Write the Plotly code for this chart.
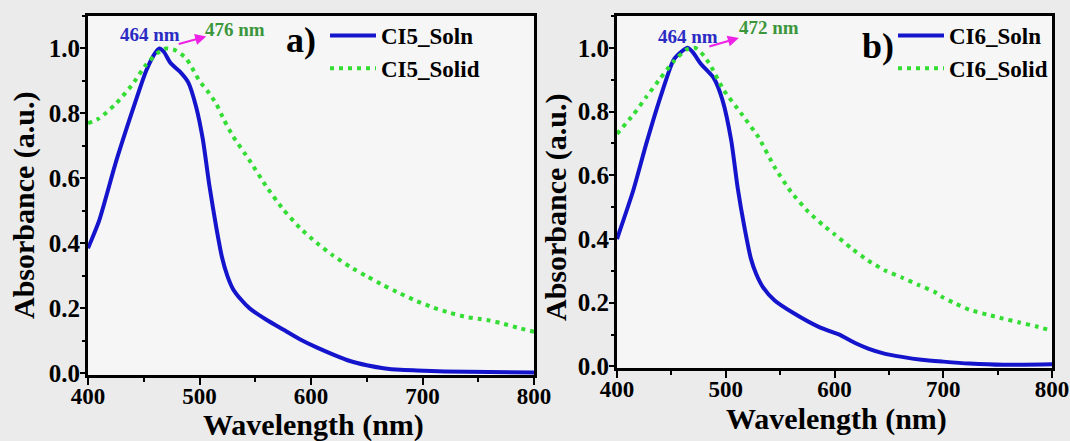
import plotly.graph_objects as go

# ---- absorbance spectra (wavelength in nm, normalised absorbance) ----
ci5_soln_nm = [400, 410, 425, 440, 452, 460, 464, 468, 474, 482, 490, 497, 503, 509,
               515, 520, 525, 530, 537, 545, 560, 575, 590, 605, 620, 635, 650, 665,
               680, 695, 720, 760, 800]
ci5_soln_abs = [0.385, 0.47, 0.65, 0.81, 0.93, 0.985, 1.0, 0.99, 0.955, 0.93, 0.895,
                0.82, 0.72, 0.575, 0.45, 0.36, 0.3, 0.26, 0.228, 0.2, 0.165, 0.135,
                0.105, 0.08, 0.058, 0.038, 0.025, 0.016, 0.011, 0.009, 0.006, 0.004,
                0.003]

ci5_solid_nm = [400, 410, 425, 440, 452, 462, 470, 478, 488, 495, 500, 507, 515, 522,
                530, 545, 560, 575, 590, 605, 620, 635, 650, 665, 680, 695, 710, 725,
                740, 750, 760, 770, 785, 800]
ci5_solid_abs = [0.77, 0.785, 0.83, 0.89, 0.95, 0.985, 1.0, 0.995, 0.97, 0.93, 0.9,
                 0.87, 0.83, 0.78, 0.73, 0.655, 0.575, 0.505, 0.448, 0.402, 0.362, 0.328,
                 0.299, 0.271, 0.246, 0.222, 0.202, 0.186, 0.173, 0.168, 0.163, 0.155,
                 0.141, 0.128]

ci6_soln_nm = [400, 415, 427, 440, 452, 460, 465, 470, 477, 489, 497, 505, 511, 517,
               523, 528, 534, 545, 563, 585, 600, 605, 610, 620, 631, 645, 662, 680,
               700, 724, 755, 800]
ci6_soln_abs = [0.4, 0.553, 0.7, 0.846, 0.962, 0.99, 1.0, 0.985, 0.95, 0.905, 0.836,
                0.71, 0.56, 0.44, 0.34, 0.29, 0.25, 0.207, 0.166, 0.125, 0.105, 0.099,
                0.09, 0.072, 0.056, 0.041, 0.03, 0.021, 0.015, 0.009, 0.005, 0.007]

ci6_solid_nm = [400, 415, 427, 440, 452, 464, 472, 480, 486, 498, 514, 530, 545, 560,
                576, 590, 600, 615, 631, 646, 662, 677, 692, 700, 712, 724, 740, 755,
                770, 785, 800]
ci6_solid_abs = [0.73, 0.79, 0.846, 0.905, 0.957, 0.995, 1.0, 0.975, 0.945, 0.868,
                 0.795, 0.72, 0.625, 0.548, 0.485, 0.442, 0.415, 0.372, 0.332, 0.302,
                 0.279, 0.256, 0.234, 0.216, 0.196, 0.178, 0.163, 0.15, 0.138, 0.126,
                 0.112]

x_ticks = [400, 500, 600, 700, 800]
y_ticks = [0.0, 0.2, 0.4, 0.6, 0.8, 1.0]

# peak labels: (text, wavelength, height, colour)
peaks_a = [("464 nm", 456, 1.043, "#2b2bc4"), ("476 nm", 532, 1.058, "#3c963c")]
peaks_b = [("464 nm", 465, 1.035, "#2b2bc4"), ("472 nm", 540, 1.063, "#3c963c")]

W, H = 1070, 441
SERIF = "Liberation Serif"
BLUE = "#1414cc"
GREEN = "#33dd33"
MAGENTA = "#ee22e6"

fig = go.Figure()

def add_pair(nm1, a1, name1, nm2, a2, name2, xa, ya, legend):
    fig.add_trace(go.Scatter(x=nm1, y=a1, name=name1, mode="lines",
                             line=dict(color=BLUE, width=4, shape="spline", smoothing=0.6),
                             xaxis=xa, yaxis=ya, legend=legend))
    fig.add_trace(go.Scatter(x=nm2, y=a2, name=name2, mode="lines",
                             line=dict(color=GREEN, width=4, dash="4px,5px",
                                       shape="spline", smoothing=0.5),
                             xaxis=xa, yaxis=ya, legend=legend))

add_pair(ci5_soln_nm, ci5_soln_abs, "CI5_Soln", ci5_solid_nm, ci5_solid_abs, "CI5_Solid",
         "x", "y", "legend")
add_pair(ci6_soln_nm, ci6_soln_abs, "CI6_Soln", ci6_solid_nm, ci6_solid_abs, "CI6_Solid",
         "x2", "y2", "legend2")

xtickfont = dict(family=SERIF, size=23, color="black", weight="bold")
ytickfont = dict(family=SERIF, size=25, color="black", weight="bold")

def xaxis(domain, anchor):
    return dict(domain=domain, anchor=anchor, range=[400, 800], tickvals=x_ticks,
                automargin=False, ticklabelstandoff=-9,
                showgrid=False, zeroline=False, showline=True, linecolor="black",
                linewidth=3, mirror=True, ticks="outside", ticklen=7, tickwidth=2,
                tickcolor="black", tickfont=xtickfont,
                minor=dict(dtick=50, ticks="outside", ticklen=4, tickwidth=2,
                           tickcolor="black"))

def yaxis(domain, anchor):
    return dict(domain=domain, anchor=anchor, range=[-0.005, 1.1], tickvals=y_ticks,
                automargin=False, ticklabelstandoff=-5,
                tickformat=".1f", showgrid=False, zeroline=False, showline=True,
                linecolor="black", linewidth=3, mirror=True, ticks="outside",
                ticklen=5, tickwidth=2, tickcolor="black", tickfont=ytickfont,
                minor=dict(dtick=0.1, ticks="outside", ticklen=3, tickwidth=2,
                           tickcolor="black"))

legfont = dict(family=SERIF, size=23, color="black", weight="bold")

annotations = []
for txt, xv, yv, col in peaks_a:
    annotations.append(dict(text=txt, x=xv, y=yv, xref="x", yref="y", showarrow=False,
                            font=dict(family=SERIF, size=19, color=col, weight="bold")))
for txt, xv, yv, col in peaks_b:
    annotations.append(dict(text=txt, x=xv, y=yv, xref="x2", yref="y2", showarrow=False,
                            font=dict(family=SERIF, size=19, color=col, weight="bold")))

# red-shift arrows
annotations.append(dict(text="", x=506, y=1.037, xref="x", yref="y", ax=-29, ay=8,
                        showarrow=True, arrowhead=2, arrowsize=1.1, arrowwidth=2,
                        arrowcolor=MAGENTA, standoff=0, startstandoff=0))
annotations.append(dict(text="", x=512, y=1.031, xref="x2", yref="y2", ax=-31, ay=9,
                        showarrow=True, arrowhead=2, arrowsize=1.1, arrowwidth=2,
                        arrowcolor=MAGENTA, standoff=0, startstandoff=0))

# panel tags
annotations.append(dict(text="a)", x=591, y=1.025, xref="x", yref="y", showarrow=False,
                        font=dict(family=SERIF, size=36, color="black", weight="bold")))
annotations.append(dict(text="b)", x=640, y=1.006, xref="x2", yref="y2", showarrow=False,
                        font=dict(family=SERIF, size=36, color="black", weight="bold")))

# axis titles
title_font = dict(family=SERIF, size=30, color="black", weight="bold")
for xc, yc in [(313, 425), (836, 419)]:
    annotations.append(dict(text="Wavelength (nm)", x=xc / W, y=1 - yc / H,
                            xref="paper", yref="paper", showarrow=False,
                            font=title_font, xanchor="center", yanchor="middle"))
for xc, yc in [(24, 205), (556, 207)]:
    annotations.append(dict(text="Absorbance (a.u.)", x=xc / W, y=1 - yc / H,
                            xref="paper", yref="paper", showarrow=False, textangle=-90,
                            font=title_font, xanchor="center", yanchor="middle"))

fig.update_layout(
    width=W, height=H,
    margin=dict(l=0, r=0, t=0, b=0, autoexpand=False),
    paper_bgcolor="#ebebeb",
    plot_bgcolor="#f6f6f6",
    xaxis=xaxis([88 / W, 534 / W], "y"),
    yaxis=yaxis([66 / H, 425 / H], "x"),
    xaxis2=xaxis([617 / W, 1052 / W], "y2"),
    yaxis2=yaxis([73 / H, 425 / H], "x2"),
    legend=dict(x=325 / W, y=1 - 14 / H, xanchor="left", yanchor="top",
                bgcolor="rgba(0,0,0,0)", font=legfont, itemwidth=46,
                tracegroupgap=0),
    legend2=dict(x=893 / W, y=1 - 14 / H, xanchor="left", yanchor="top",
                 bgcolor="rgba(0,0,0,0)", font=legfont, itemwidth=46,
                 tracegroupgap=0),
    annotations=annotations,
    showlegend=True,
)

fig.write_html("out.html")
